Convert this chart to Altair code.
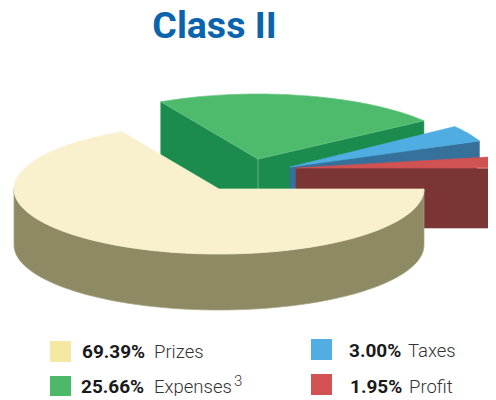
import math
import altair as alt
import pandas as pd

TITLE = "Class II"
CATEGORIES = ["Prizes", "Expenses", "Taxes", "Profit"]
SHARES = ["69.39%", "25.66%", "3.00%", "1.95%"]
# rim angles (degrees, counter-clockwise from east)
START_ANGLE = [118.3, 118.3, 36.5, 19.0]
END_ANGLE = [0.0, 36.0, 22.5, 0.0]

# Layout: the scales' units are the picture's own pixels
X0, X1, Y0, Y1 = 8, 488, 8, 396
X_SCALE = alt.Scale(domain=[X0, X1], nice=False, zero=False)
Y_SCALE = alt.Scale(domain=[Y1, Y0], nice=False, zero=False)


def rim(cx, cy, rx, ry, a):
    r = math.radians(a)
    return (cx + rx * math.cos(r), cy - ry * math.sin(r))


def arc(cx, cy, rx, ry, a0, a1, n=80):
    return [rim(cx, cy, rx, ry, a0 + (a1 - a0) * i / n) for i in range(n + 1)]


def drop(pts, d):
    return [(x, y + d) for x, y in pts]


def shape(pts, fill, stroke=None, sw=0.6, closed=True):
    p = list(pts) + ([pts[0]] if closed else [])
    df = pd.DataFrame({"x": [q[0] for q in p], "y": [q[1] for q in p], "i": range(len(p))})
    kw = dict(stroke=stroke or fill, strokeWidth=sw, clip=True, interpolate="linear")
    if fill != "none":
        kw["fill"] = fill
    return alt.Chart(df).mark_line(**kw).encode(
        x=alt.X("x:Q", scale=X_SCALE, axis=None),
        y=alt.Y("y:Q", scale=Y_SCALE, axis=None),
        order="i:Q",
    )


layers = []

# Expenses
c, r = (258, 159), (205, 65)
d = 56
a = rim(*c, *r, START_ANGLE[1])
b = rim(*c, *r, END_ANGLE[1])
layers.append(shape([a, c, drop([c], d)[0], drop([a], d)[0]], "#1b8c4e"))
layers.append(shape([c, b, drop([b], d)[0], drop([c], d)[0]], "#1b8c4e"))
layers.append(shape([c, drop([c], d)[0]], "none", "#79c48e", 0.8, closed=False))
layers.append(shape([c] + arc(*c, *r, START_ANGLE[1], END_ANGLE[1]), "#4dba6c", "#6cc685", 0.7))

# Taxes
c, r = (290, 167), (205, 68)
a = rim(*c, *r, START_ANGLE[2])
b = rim(*c, *r, END_ANGLE[2])
layers.append(shape([c, b, drop([b], d)[0], drop([c], d)[0]], "#35719b"))
layers.append(shape([c] + arc(*c, *r, START_ANGLE[2], END_ANGLE[2], 12), "#4fade1"))

# Profit
c, r = (296, 168), (205, 34)
d2 = 60
b = rim(*c, *r, END_ANGLE[3])
layers.append(shape([c, b, drop([b], d2)[0], drop([c], d2)[0]], "#7b3535"))
layers.append(shape([c] + arc(*c, *r, START_ANGLE[3], END_ANGLE[3], 12), "#d05252"))
layers.append(shape([(477, 168), b], "none", "#e08a8a", 1, closed=False))

# Prizes
c, r = (219, 189), (205, 65)
front = arc(*c, *r, 0, -180)
layers.append(shape(front + drop(front, d)[::-1], "#8e8a63", "#a5a282", 0.7))
layers.append(shape([c] + arc(*c, *r, END_ANGLE[0], START_ANGLE[0] - 360, 160), "#f9f0cd", "#f9f0cd", 0.7))


def text(s, x, y, size, weight, color, font, align="left"):
    df = pd.DataFrame({"x": [x], "y": [y], "t": [s]})
    return alt.Chart(df).mark_text(
        align=align, baseline="alphabetic", fontSize=size, fontWeight=weight, color=color, font=font
    ).encode(
        x=alt.X("x:Q", scale=X_SCALE, axis=None),
        y=alt.Y("y:Q", scale=Y_SCALE, axis=None),
        text="t:N",
    )


layers.append(text(TITLE, 214.5, 38, 37.5, 700, "#0a63ad", "Roboto", "center"))

SWATCH = ["#f5e8a3", "#4cb968", "#52ade2", "#d25253"]
SW_X = [50, 50, 311, 311]
SW_Y = [341, 376, 339, 374]
SW_SIDE = [21, 20, 21, 21]
PCT_X = [82, 81, 349, 350]
LAB_X = [154, 154, 408, 409]
BASE = [358, 392.5, 357, 392.5]
FONT = "Roboto"
for i in range(4):
    df = pd.DataFrame({
        "x0": [SW_X[i]], "x1": [SW_X[i] + 21],
        "y0": [SW_Y[i]], "y1": [SW_Y[i] + SW_SIDE[i]],
    })
    layers.append(
        alt.Chart(df).mark_rect(color=SWATCH[i]).encode(
            x=alt.X("x0:Q", scale=X_SCALE, axis=None),
            x2="x1:Q",
            y=alt.Y("y0:Q", scale=Y_SCALE, axis=None),
            y2="y1:Q",
        )
    )
    layers.append(text(SHARES[i], PCT_X[i], BASE[i], 19, 700, "#1a1a1a", FONT))
    layers.append(text(CATEGORIES[i], LAB_X[i], BASE[i], 18.5, 300, "#333333", FONT))
layers.append(text("3", 234, 386, 15, 300, "#333333", FONT))

chart = alt.layer(*layers).properties(
    width=X1 - X0, height=Y1 - Y0, padding=0,
    autosize=alt.AutoSizeParams(type="none"), background="white",
).configure_view(stroke=None)

chart.save("out.html", embed_options={"renderer": "svg", "actions": False})
